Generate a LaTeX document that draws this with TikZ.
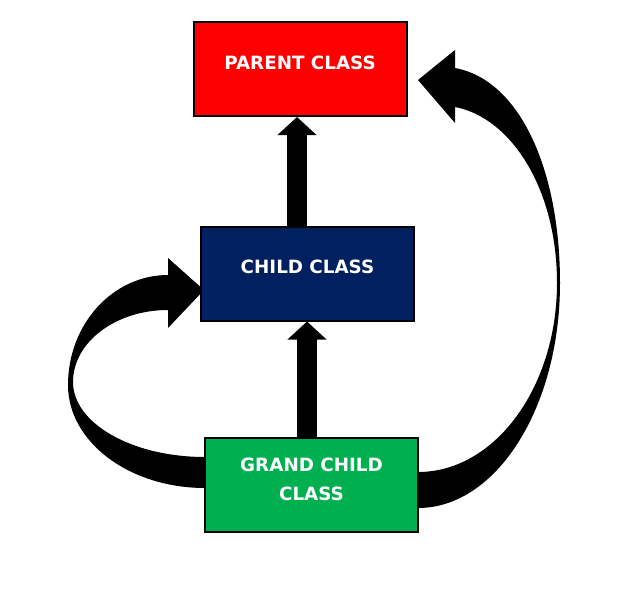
\documentclass[tikz,border=0pt]{standalone}
\usepackage{fontspec}
\setmainfont{DejaVu Sans}
\usetikzlibrary{arrows.meta,calc}
\definecolor{pred}{HTML}{FF0000}
\definecolor{cnavy}{HTML}{002060}
\definecolor{ggreen}{HTML}{00B050}
\tikzset{
  box/.style={draw=black, line width=2pt, minimum width=213pt, minimum height=94pt, inner sep=0pt},
  lbl/.style={text=white, font=\fontsize{18.3}{29}\selectfont\bfseries, align=center},
  upar/.style={line width=20pt, -{Triangle[length=18pt,width=38pt]}},
  curvedarrow/.style={fill=black}
}
\begin{document}
\begin{tikzpicture}[x=1pt,y=-1pt]
\useasboundingbox (0,0) rectangle (631,605);
% curved arrows (under the boxes)
\fill[curvedarrow] (210,488) -- (205,488) .. controls (129.3,488) and (68,441.9) .. (68,385)
  .. controls (68,324.2) and (112.8,275) .. (168,275)
  -- (168,258) -- (204,290) -- (168,328) -- (168,310)
  .. controls (115.5,310) and (73,342.2) .. (73,382)
  .. controls (73,423.4) and (132.1,457) .. (205,457) -- (210,457) -- cycle;
\fill[curvedarrow] (413,508) -- (418,508) .. controls (496.4,508) and (560,407.3) .. (560,283)
  .. controls (560,170) and (520,80) .. (455,68)
  -- (455,50) -- (418,80) -- (455,123) -- (455,107)
  .. controls (512,118) and (557,190) .. (557,283)
  .. controls (557,387.4) and (494.8,472) .. (418,472) -- (413,472) -- cycle;
% boxes
\node[box, fill=pred] (parent) at (300,69) {};
\node[box, fill=cnavy] (child) at (307.5,273.5) {};
\node[box, fill=ggreen] (grand) at (311.5,484.5) {};
\node[lbl] (ptext) at (300,63) {PARENT CLASS};
\node[lbl] (ctext) at (307.5,267) {CHILD CLASS};
\node[lbl] (gtext) at (311.5,479.5) {GRAND CHILD\\CLASS};
% straight arrows
\coordinate (a1) at (297,0);
\coordinate (a2) at (307,0);
\draw[upar] (child.north -| a1) -- (parent.south -| a1);
\draw[upar] (grand.north -| a2) -- (child.south -| a2);
\end{tikzpicture}
\end{document}
